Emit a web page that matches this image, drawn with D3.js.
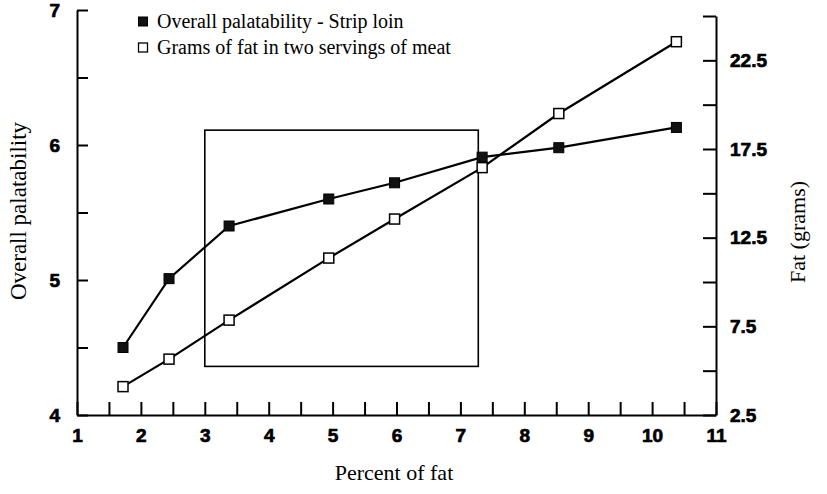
<!DOCTYPE html>
<html>
<head>
<meta charset="utf-8">
<script src="https://cdn.jsdelivr.net/npm/d3@7/dist/d3.min.js"></script>
<style>
  html, body { margin: 0; padding: 0; background: #fff; }
  svg { display: block; }
  .serif { font-family: "Liberation Serif", "Times New Roman", serif; fill: #000; }
</style>
</head>
<body>
<svg id="chart" width="827" height="494"></svg>
<script>
// ---- data ----
const fatPercent   = [1.72, 2.44, 3.38, 4.94, 5.97, 7.34, 8.54, 10.38];
const palatability = [4.50, 5.01, 5.40, 5.60, 5.72, 5.91, 5.98, 6.13];
const fatGrams     = [4.1, 5.65, 7.85, 11.35, 13.55, 16.45, 19.5, 23.55];
const seriesNames  = ["Overall palatability - Strip loin", "Grams of fat in two servings of meat"];
const xTicks = d3.range(1, 11.01, 0.5);
const xLabels = [1, 2, 3, 4, 5, 6, 7, 8, 9, 10, 11];
const yLeftTicks = [4, 4.5, 5, 5.5, 6, 6.5, 7];
const yLeftLabels = [4, 5, 6, 7];
const yRightTicks = [2.5, 5, 7.5, 10, 12.5, 15, 17.5, 20, 22.5, 25];
const yRightLabels = [2.5, 7.5, 12.5, 17.5, 22.5];
const boxPercent = [3.0, 7.28];
const boxPalatability = [4.36, 6.11];

// ---- layout ----
const svg = d3.select("#chart");
const x = d3.scaleLinear().domain([1, 11]).range([77, 716]);
const yL = d3.scaleLinear().domain([4, 7]).range([415, 10]);
const yR = d3.scaleLinear().domain([2.5, 25]).range([415, 16]);

// axes
const gx = svg.append("g").attr("transform", "translate(0,415)")
  .call(d3.axisBottom(x).tickValues(xTicks).tickSize(-13).tickSizeOuter(0).tickPadding(13.5)
    .tickFormat(d => xLabels.includes(d) ? d3.format("d")(d) : ""));
const gl = svg.append("g").attr("transform", "translate(77,0)")
  .call(d3.axisLeft(yL).tickValues(yLeftTicks).tickSize(-11).tickSizeOuter(0).tickPadding(17)
    .tickFormat(d => yLeftLabels.includes(d) ? d3.format("d")(d) : ""));
const gr = svg.append("g").attr("transform", "translate(716,0)")
  .call(d3.axisRight(yR).tickValues(yRightTicks).tickSize(-13).tickSizeOuter(0).tickPadding(14)
    .tickFormat(d => yRightLabels.includes(d) ? d3.format(".1f")(d) : ""));
[gx, gl, gr].forEach(g => {
  g.attr("font-family", "Liberation Sans, Arial, sans-serif").attr("font-size", 19).attr("font-weight", 700);
  g.select(".domain").attr("stroke", "#000").attr("stroke-width", 2);
  g.selectAll(".tick line").attr("stroke", "#000").attr("stroke-width", 2);
  g.selectAll(".tick text")
    .attr("fill", "#000")
    .attr("font-weight", 700)
    .attr("stroke", "#000")
    .attr("stroke-width", 0.7);
});

// rectangle
svg.append("rect")
  .attr("x", x(boxPercent[0])).attr("y", yL(boxPalatability[1]))
  .attr("width", x(boxPercent[1]) - x(boxPercent[0]))
  .attr("height", yL(boxPalatability[0]) - yL(boxPalatability[1]))
  .attr("fill", "none").attr("stroke", "#000").attr("stroke-width", 1.6);

// series
const fatData = fatPercent.map((p, i) => [p, fatGrams[i]]);
const palData = fatPercent.map((p, i) => [p, palatability[i]]);
const ms = 10;

svg.append("path").datum(fatData)
  .attr("d", d3.line().x(d => x(d[0])).y(d => yR(d[1])))
  .attr("fill", "none").attr("stroke", "#000").attr("stroke-width", 2.2);
svg.append("path").datum(palData)
  .attr("d", d3.line().x(d => x(d[0])).y(d => yL(d[1])))
  .attr("fill", "none").attr("stroke", "#000").attr("stroke-width", 2.2);

svg.append("g").selectAll("rect").data(fatData).join("rect")
  .attr("x", d => x(d[0]) - ms / 2).attr("y", d => yR(d[1]) - ms / 2)
  .attr("width", ms).attr("height", ms)
  .attr("fill", "#fff").attr("stroke", "#000").attr("stroke-width", 1.5);
svg.append("g").selectAll("rect").data(palData).join("rect")
  .attr("x", d => x(d[0]) - ms / 2).attr("y", d => yL(d[1]) - ms / 2)
  .attr("width", ms).attr("height", ms)
  .attr("fill", "#111").attr("stroke", "#000").attr("stroke-width", 1);

// legend
const legend = svg.append("g");
const lg = legend.selectAll("g").data(seriesNames).join("g")
  .attr("transform", (d, i) => `translate(143,${21.5 + i * 26})`);
lg.append("rect").attr("x", -4.5).attr("y", -4.5).attr("width", 9).attr("height", 9)
  .attr("fill", (d, i) => i === 0 ? "#111" : "#fff")
  .attr("stroke", "#000").attr("stroke-width", (d, i) => i === 0 ? 1 : 1.3);
lg.append("text").attr("class", "serif").attr("x", 14).attr("y", 6)
  .attr("font-size", 20).text(d => d);

// axis titles
svg.append("text").attr("class", "serif").attr("font-size", 23)
  .attr("text-anchor", "middle")
  .attr("transform", "translate(26,211) rotate(-90)")
  .text("Overall palatability");
svg.append("text").attr("class", "serif").attr("font-size", 22)
  .attr("text-anchor", "middle")
  .attr("x", 394).attr("y", 480)
  .text("Percent of fat");
svg.append("text").attr("class", "serif").attr("font-size", 22)
  .attr("text-anchor", "middle")
  .attr("transform", "translate(805,232) rotate(-90)")
  .text("Fat (grams)");
</script>
</body>
</html>
